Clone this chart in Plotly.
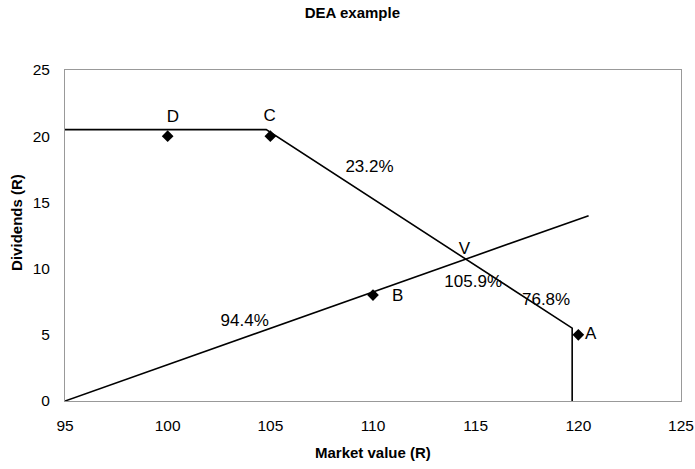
import plotly.graph_objects as go

# Data points
point_names = ["D", "C", "B", "A"]
point_x = [100, 105, 110, 120]
point_y = [20, 20, 8, 5]

# Efficient frontier
frontier_x = [95, 104.8, 119.7, 119.7]
frontier_y = [20.5, 20.5, 5.5, 0]

# Ray from origin through B
ray_x = [95, 120.5]
ray_y = [0, 14]

# Annotation labels
label_text = ["D", "C", "23.2%", "V", "105.9%", "76.8%", "A", "B", "94.4%"]
label_x = [100.25, 104.97, 109.83, 114.45, 114.88, 118.43, 120.6, 111.2, 103.75]
label_y = [21.4, 21.45, 17.6, 11.4, 8.9, 7.6, 5.0, 7.85, 6.0]

FONT = "Liberation Sans, Arial"

fig = go.Figure()
fig.add_trace(go.Scatter(x=frontier_x, y=frontier_y, mode="lines",
                         line=dict(color="black", width=1.6), showlegend=False, hoverinfo="skip"))
fig.add_trace(go.Scatter(x=ray_x, y=ray_y, mode="lines",
                         line=dict(color="black", width=1.6), showlegend=False, hoverinfo="skip"))
fig.add_trace(go.Scatter(x=point_x, y=point_y, mode="markers", text=point_names,
                         marker=dict(symbol="diamond", color="black", size=9), showlegend=False))
fig.add_trace(go.Scatter(x=label_x, y=label_y, mode="text", text=label_text,
                         textfont=dict(family=FONT, size=17, color="black"),
                         showlegend=False, hoverinfo="skip"))

axis_font = dict(family=FONT, size=15.5, color="black")
fig.update_layout(
    width=695, height=469,
    margin=dict(l=65, r=14, t=70, b=68),
    paper_bgcolor="white", plot_bgcolor="white",
    title=dict(text="<b>DEA example</b>", x=0.507, xref="container", xanchor="center",
               y=1 - 13 / 469, yanchor="middle",
               font=dict(family=FONT, size=15, color="black")),
    xaxis=dict(range=[95, 125], tick0=95, dtick=5, showgrid=False, zeroline=False,
               showline=True, linecolor="#999", linewidth=1, mirror=True, automargin=False,
               ticks="", tickfont=axis_font, ticklabelstandoff=10),
    yaxis=dict(range=[0, 25], tick0=0, dtick=5, showgrid=False, zeroline=False,
               showline=True, linecolor="#999", linewidth=1, mirror=True, automargin=False,
               ticks="", tickfont=axis_font, ticklabelstandoff=11),
    annotations=[
        dict(text="<b>Market value (R)</b>", xref="paper", yref="paper", x=0.5, y=-0.157,
             xanchor="center", yanchor="middle", showarrow=False,
             font=dict(family=FONT, size=15, color="black")),
        dict(text="<b>Dividends (R)</b>", xref="paper", yref="paper", x=-0.078, y=0.541,
             xanchor="center", yanchor="middle", showarrow=False, textangle=-90,
             font=dict(family=FONT, size=15, color="black")),
    ],
)

fig.write_html("out.html", config={"displayModeBar": False},
               post_script="document.body.style.margin='0px';")
